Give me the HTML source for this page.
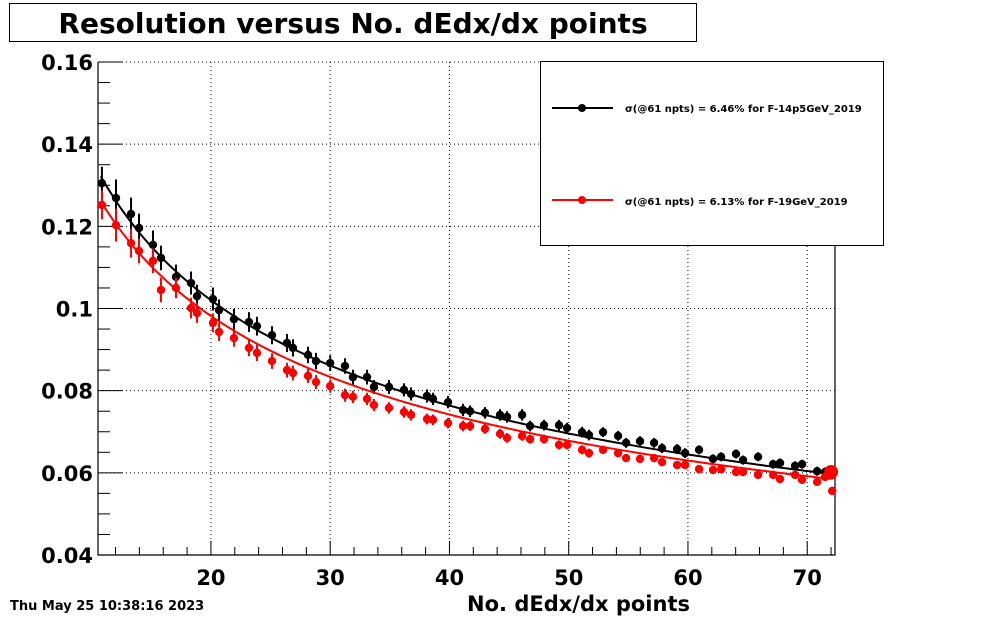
<!DOCTYPE html>
<html><head><meta charset="utf-8"><style>
body{margin:0;background:#fff;}
svg{display:block;font-family:"DejaVu Sans","Liberation Sans",sans-serif;}
</style></head><body>
<svg id="chart" width="983" height="617" viewBox="0 0 983 617">
<rect x="0" y="0" width="983" height="617" fill="#fff"/>
<rect x="9.5" y="3.5" width="687" height="38" fill="#fff" stroke="#000"/>
<text x="353" y="33" text-anchor="middle" font-size="28" font-weight="bold">Resolution versus No. dEdx/dx points</text>
<g id="grid"></g>
<g id="axes"></g>
<g id="series"></g>
<text x="690" y="611" text-anchor="end" font-size="21" font-weight="bold">No. dEdx/dx points</text>
<text x="10" y="610" font-size="13" font-weight="bold">Thu May 25 10:38:16 2023</text>
<g>
<rect x="540.5" y="61.5" width="343" height="184" fill="#fff" stroke="#000"/>
<g>
<line x1="552" y1="108" x2="613" y2="108" stroke="#000" stroke-width="2"/>
<circle cx="582" cy="108" r="4" fill="#000"/>
<text x="625" y="112" font-size="10" font-weight="bold">σ(@61 npts) =  6.46% for F-14p5GeV_2019</text>
</g>
<g>
<line x1="552" y1="200" x2="613" y2="200" stroke="#f00" stroke-width="2"/>
<circle cx="582" cy="200" r="4" fill="#f00"/>
<text x="625" y="205" font-size="10" font-weight="bold">σ(@61 npts) =  6.13% for F-19GeV_2019</text>
</g>
</g>
</svg>
<script>
const xs=[10.86,12.04,13.30,13.97,15.14,15.81,17.07,18.33,18.83,20.17,20.68,21.93,23.19,23.86,25.12,26.38,26.88,28.14,28.81,30.0,31.24,31.91,33.09,33.67,34.93,36.19,36.78,38.12,38.62,39.88,41.14,41.73,42.98,44.24,44.83,46.09,46.76,47.93,49.19,49.86,51.12,51.70,52.88,54.14,54.81,55.98,57.16,57.83,59.09,59.76,60.93,62.10,62.78,64.03,64.62,65.88,67.14,67.72,68.98,69.57,70.83,71.50,72.09];
const blackY=[.1305,.1269,.1230,.1196,.1155,.1123,.1077,.1062,.1030,.1023,.0996,.0974,.0967,.0957,.0935,.0916,.0904,.0887,.0872,.0867,.0860,.0833,.0833,.0809,.0809,.0802,.0792,.0787,.0780,.0772,.0753,.0750,.0746,.0741,.0736,.0741,.0714,.0716,.0716,.0709,.0699,.0692,.0699,.0690,.0673,.0677,.0673,.0660,.0658,.0648,.0656,.0634,.0639,.0646,.0631,.0639,.0621,.0624,.0617,.0621,.0604,.0602,.0595];
const redY=[.1252,.1203,.1159,.1140,.1116,.1045,.1050,.1001,.0989,.0965,.0943,.0928,.0904,.0892,.0872,.0850,.0843,.0836,.0821,.0811,.0789,.0785,.0780,.0765,.0758,.0748,.0741,.0731,.0729,.0721,.0714,.0714,.0707,.0695,.0685,.0690,.0682,.0682,.0668,.0668,.0656,.0648,.0656,.0648,.0636,.0634,.0636,.0626,.0619,.0619,.0609,.0607,.0609,.0602,.0602,.0595,.0595,.0585,.0595,.0583,.0578,.0590,.0556];
const blackErr=[.004,.0045,.004,.0035,.0035,.003,.003,.0028,.0028,.0028,.0026,.0025,.0024,.0023,.0022,.0022,.0021,.002,.002,.0019,.0019,.0018,.0018,.0017,.0017,.0016,.0016,.0016,.0015,.0015,.0015,.0014,.0014,.0014,.0014,.0014,.0013,.0013,.0013,.0013,.0013,.0013,.0012,.0012,.0012,.0012,.0012,.0012,.0012,.0012,.0011,.0011,.0011,.0011,.0011,.0011,.0011,.0011,.0011,.0011,.0011,.0011,.0011];
const redErr=[.0035,.004,.0035,.003,.003,.003,.0025,.0025,.0024,.0023,.0022,.0021,.002,.002,.0019,.0018,.0018,.0017,.0017,.0016,.0016,.0015,.0015,.0015,.0014,.0014,.0014,.0013,.0013,.0013,.0013,.0012,.0012,.0012,.0012,.0012,.0011,.0011,.0011,.0011,.0011,.0011,.001,.001,.001,.001,.001,.001,.001,.001,.001,.001,.001,.001,.001,.001,.001,.001,.001,.001,.001,.001,.001];
const blackFit=[0.131,11,0.418];
const redFit=[0.125,11,0.404];
const xTicks=[20,30,40,50,60,70];
const yTicks=[0.04,0.06,0.08,0.1,0.12,0.14,0.16];
const yTickLabels=["0.04","0.06","0.08","0.1","0.12","0.14","0.16"];

const X0=98,X1=835,Y0=555,Y1=62;
const xMin=10.53,xMax=72.33,yMin=0.04,yMax=0.16;
const sx=v=>X0+(v-xMin)/(xMax-xMin)*(X1-X0);
const sy=v=>Y0-(v-yMin)/(yMax-yMin)*(Y0-Y1);
const NS='http://www.w3.org/2000/svg';
function mk(tag,parent,attrs){const e=document.createElementNS(NS,tag);for(const k in attrs)e.setAttribute(k,attrs[k]);parent.appendChild(e);return e;}
const grid=document.getElementById('grid'),axes=document.getElementById('axes'),ser=document.getElementById('series');

xTicks.forEach(t=>{
 const l=mk('line',grid,{x1:sx(t),x2:sx(t),y1:Y1,y2:Y0,stroke:'#000','stroke-dasharray':'1,3'});
 
 
});
yTicks.forEach(t=>{
 const l=mk('line',grid,{x1:X0,x2:X1,y1:sy(t),y2:sy(t),stroke:'#000','stroke-dasharray':'1,3'});
 
 
});
const ax=mk('path',axes,{d:`M${X0},${Y1}V${Y0}H${X1}V${Y1}`,fill:'none',stroke:'#000','stroke-width':1.2});


for(let v=12;v<=72;v+=2){
 const major=v%10===0;
 const tk=mk('line',axes,{x1:sx(v),x2:sx(v),y1:Y0,y2:Y0-(major?14:8),stroke:'#000'});
 
 
}
xTicks.forEach(t=>{
 const tx=mk('text',axes,{x:sx(t),y:Y0+30,'text-anchor':'middle','font-size':21,'font-weight':'bold'});
 tx.textContent=t;
 
 
});
for(let i=0;i<=24;i++){
 const v=yMin+i*0.005;const major=i%4===0;
 const tk=mk('line',axes,{x1:X0,x2:X0+(major?24:12),y1:sy(v),y2:sy(v),stroke:'#000'});
 
 
}
yTicks.forEach((t,i)=>{
 const tx=mk('text',axes,{x:X0-5,y:sy(t)+8,'text-anchor':'end','font-size':21,'font-weight':'bold'});
 tx.textContent=yTickLabels[i];
 
 
});

function drawSeries(ys,errs,fit,color,name){
 const g=mk('g',ser,{});
 
 
 let d='';
 for(let x=xs[0]-0.1;x<=72.2;x+=0.25){const y=fit[0]*Math.pow(x/fit[1],-fit[2]);d+=(d?'L':'M')+sx(x).toFixed(1)+','+sy(y).toFixed(1);}
 const fl=mk('path',g,{d:d,fill:'none',stroke:color,'stroke-width':2});
 
 
 xs.forEach((x,i)=>{
  const eb=mk('line',g,{x1:sx(x),x2:sx(x),y1:sy(ys[i]+errs[i]),y2:sy(ys[i]-errs[i]),stroke:color,'stroke-width':2});
  
  
  const c=mk('circle',g,{cx:sx(x),cy:sy(ys[i]),r:4.2,fill:color});
  
  
 });
}
drawSeries(blackY,blackErr,blackFit,'#000','black');
drawSeries(redY,redErr,redFit,'#f00','red');
const big=mk('circle',ser,{cx:sx(72.0),cy:sy(0.0602),r:7,fill:'#f00'});


</script>
</body></html>
